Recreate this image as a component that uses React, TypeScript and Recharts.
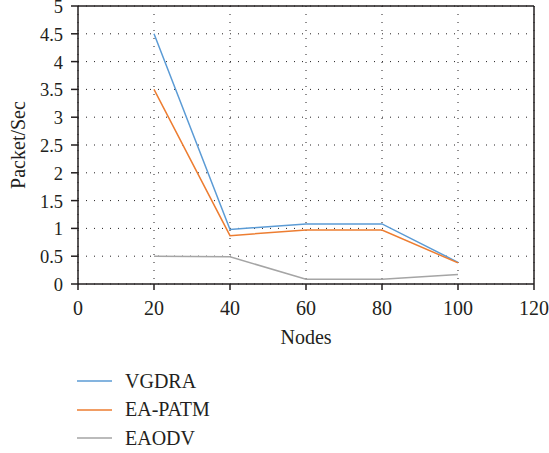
import React from 'react';
import {
  LineChart,
  Line,
  XAxis,
  YAxis,
  CartesianGrid,
  ReferenceLine,
} from 'recharts';

const nodes = [20, 40, 60, 80, 100];
const vgdra = [4.5, 0.98, 1.08, 1.08, 0.39];
const eaPatm = [3.5, 0.87, 0.97, 0.97, 0.38];
const eaodv = [0.5, 0.49, 0.085, 0.085, 0.17];

const xTicks = [0, 20, 40, 60, 80, 100, 120];
const yTicks = [0, 0.5, 1, 1.5, 2, 2.5, 3, 3.5, 4, 4.5, 5];

const series = [
  { key: 'VGDRA', values: vgdra, color: '#5b9bd5' },
  { key: 'EA-PATM', values: eaPatm, color: '#ed7d31' },
  { key: 'EAODV', values: eaodv, color: '#a5a5a5' },
];

const data = nodes.map((n, i) => {
  const row: { [key: string]: number } = { nodes: n };
  series.forEach((s) => {
    row[s.key] = s.values[i];
  });
  return row;
});

const ink = '#231f20';
const font = '"Liberation Serif", "Times New Roman", serif';
const fs = 20;

// y tick labels a bit smaller so the top "5" stays inside the picture
const YTick = (props: any) => (
  <text x={props.x} y={props.y} dy="0.38em" textAnchor="end" fontSize={18.5} fill={ink}>
    {props.payload.value}
  </text>
);

const App: React.FC = () => {
  return (
    <div style={{ position: 'absolute', left: 0, top: 0, width: 549, height: 453, background: '#fff' }}>
      <LineChart
        width={549}
        height={453}
        data={data}
        margin={{ top: 6, right: 15, left: 0, bottom: 123 }}
        style={{ fontFamily: font }}
      >
        <CartesianGrid stroke={ink} strokeDasharray="1 7" />
        <XAxis
          dataKey="nodes"
          type="number"
          domain={[0, 120]}
          ticks={xTicks}
          interval={0}
          height={46}
          stroke={ink}
          strokeWidth={1.5}
          tickSize={6}
          tickMargin={11}
          tick={{ fontSize: fs, fill: ink }}
          label={{ value: 'Nodes', position: 'bottom', offset: 0, style: { fontSize: fs, fill: ink } }}
        />
        <YAxis
          type="number"
          domain={[0, 5]}
          ticks={yTicks}
          interval={0}
          width={78}
          stroke={ink}
          strokeWidth={1.5}
          tickSize={7}
          tickMargin={8}
          tick={<YTick />}
          label={{
            value: 'Packet/Sec',
            angle: -90,
            position: 'insideLeft',
            offset: 18,
            style: { fontSize: fs, fill: ink, textAnchor: 'middle' },
          }}
        />
        <ReferenceLine y={5} stroke={ink} strokeWidth={1.5} />
        <ReferenceLine x={120} stroke={ink} strokeWidth={1.5} />
        {series.map((s) => (
          <Line
            key={s.key}
            dataKey={s.key}
            stroke={s.color}
            strokeWidth={1.5}
            dot={false}
            isAnimationActive={false}
          />
        ))}
      </LineChart>
      <div style={{ position: 'absolute', left: 77, top: 367, fontFamily: font, fontSize: fs, color: ink }}>
        {series.map((s) => (
          <div key={s.key} style={{ display: 'flex', alignItems: 'center', height: 28.5 }}>
            <svg width={35} height={4} style={{ marginRight: 13 }}>
              <line x1={0} y1={2} x2={35} y2={2} stroke={s.color} strokeWidth={1.5} />
            </svg>
            <span>{s.key}</span>
          </div>
        ))}
      </div>
    </div>
  );
};

export default App;
